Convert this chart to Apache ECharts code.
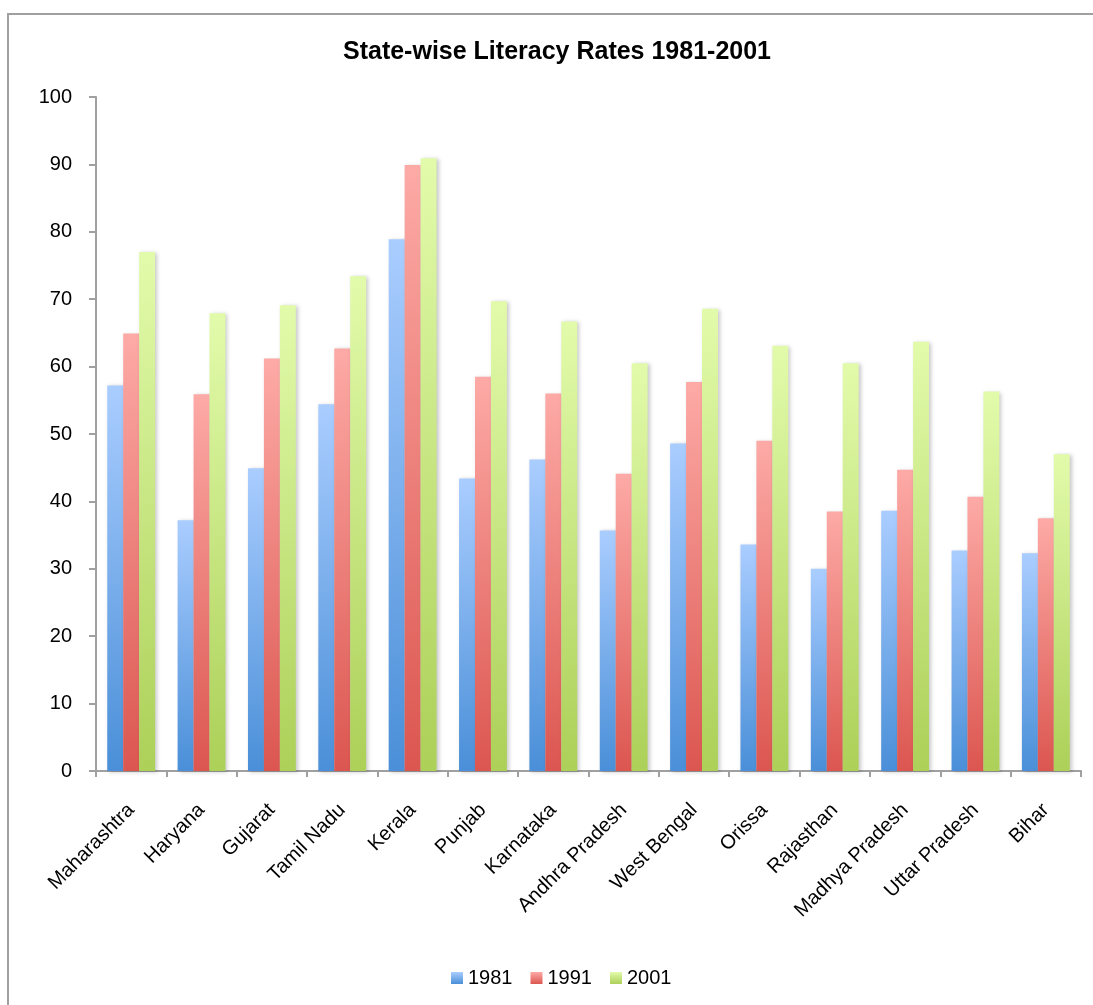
<!DOCTYPE html>
<html>
<head>
<meta charset="utf-8">
<script src="https://cdn.jsdelivr.net/npm/echarts@6/dist/echarts.min.js"></script>
<style>
  html, body { margin: 0; padding: 0; background: #fff; }
  #chart { width: 1093px; height: 1005px; }
</style>
</head>
<body>
<div id="chart"></div>
<script>
// Literacy rate (%) by state for the three census years
const states = ['Maharashtra', 'Haryana', 'Gujarat', 'Tamil Nadu', 'Kerala', 'Punjab', 'Karnataka',
  'Andhra Pradesh', 'West Bengal', 'Orissa', 'Rajasthan', 'Madhya Pradesh', 'Uttar Pradesh', 'Bihar'];
const years = ['1981', '1991', '2001'];
const rates1981 = [57.2, 37.2, 44.9, 54.4, 78.9, 43.4, 46.2, 35.7, 48.6, 33.6, 30.0, 38.6, 32.7, 32.3];
const rates1991 = [64.9, 55.9, 61.2, 62.7, 89.9, 58.5, 56.0, 44.1, 57.7, 49.0, 38.5, 44.7, 40.7, 37.5];
const rates2001 = [77.0, 67.9, 69.1, 73.4, 90.9, 69.7, 66.7, 60.5, 68.6, 63.1, 60.5, 63.7, 56.3, 47.0];
const yTicks = [0, 10, 20, 30, 40, 50, 60, 70, 80, 90, 100];

const FONT = '"Liberation Sans", Arial, sans-serif';

// light at the top, deeper at the base
function grad(top, bottom) {
  return new echarts.graphic.LinearGradient(0, 0, 0, 1, [
    { offset: 0, color: top },
    { offset: 1, color: bottom }
  ]);
}
const palette = [
  { top: '#aacdff', bottom: '#4a8fd8' },
  { top: '#fdaaa6', bottom: '#dc5650' },
  { top: '#e2fbab', bottom: '#acd058' }
];
const values = [rates1981, rates1991, rates2001];

const chart = echarts.init(document.getElementById('chart'), null, { renderer: 'canvas' });

chart.setOption({
  animation: false,
  backgroundColor: '#ffffff',
  title: {
    text: 'State-wise Literacy Rates 1981-2001',
    left: 552,
    textAlign: 'center',
    top: 35,
    textStyle: { fontFamily: FONT, fontSize: 25, fontWeight: 'bold', color: '#000' }
  },
  graphic: [{
    type: 'rect',
    shape: { x: 8, y: 14, width: 1200, height: 1200 },
    style: { fill: 'none', stroke: '#a0a0a0', lineWidth: 2 },
    silent: true,
    z: -1
  }],
  legend: {
    bottom: 12,
    left: 446,
    itemWidth: 12,
    itemHeight: 12,
    itemGap: 18,
    icon: 'rect',
    textStyle: { fontFamily: FONT, fontSize: 20, color: '#000' },
    data: years.map((y, i) => ({
      name: y,
      itemStyle: { color: grad(palette[i].top, palette[i].bottom) }
    }))
  },
  grid: { left: 96, right: 12, top: 97, bottom: 234, containLabel: false },
  xAxis: {
    type: 'category',
    data: states,
    boundaryGap: true,
    axisLine: { lineStyle: { color: '#a0a0a0', width: 2 } },
    axisTick: { show: true, length: 6, lineStyle: { color: '#a0a0a0', width: 2 } },
    axisLabel: {
      rotate: 45,
      interval: 0,
      margin: 36,
      fontFamily: FONT,
      fontSize: 20,
      color: '#000'
    }
  },
  yAxis: {
    type: 'value',
    min: 0,
    max: 100,
    interval: 10,
    axisLine: { show: true, lineStyle: { color: '#a0a0a0', width: 2 } },
    axisTick: { show: true, inside: false, length: 7, lineStyle: { color: '#a0a0a0', width: 2 } },
    splitLine: { show: false },
    axisLabel: {
      margin: 24,
      fontFamily: FONT,
      fontSize: 20,
      color: '#000',
      formatter: v => (yTicks.indexOf(v) >= 0 ? String(v) : '')
    }
  },
  series: years.map((y, i) => ({
    name: y,
    type: 'bar',
    data: values[i],
    barGap: '0%',
    barCategoryGap: '32%',
    itemStyle: {
      color: grad(palette[i].top, palette[i].bottom),
      shadowColor: 'rgba(0,0,0,0.22)',
      shadowBlur: 4,
      shadowOffsetX: 2,
      shadowOffsetY: 1
    }
  }))
});
</script>
</body>
</html>
